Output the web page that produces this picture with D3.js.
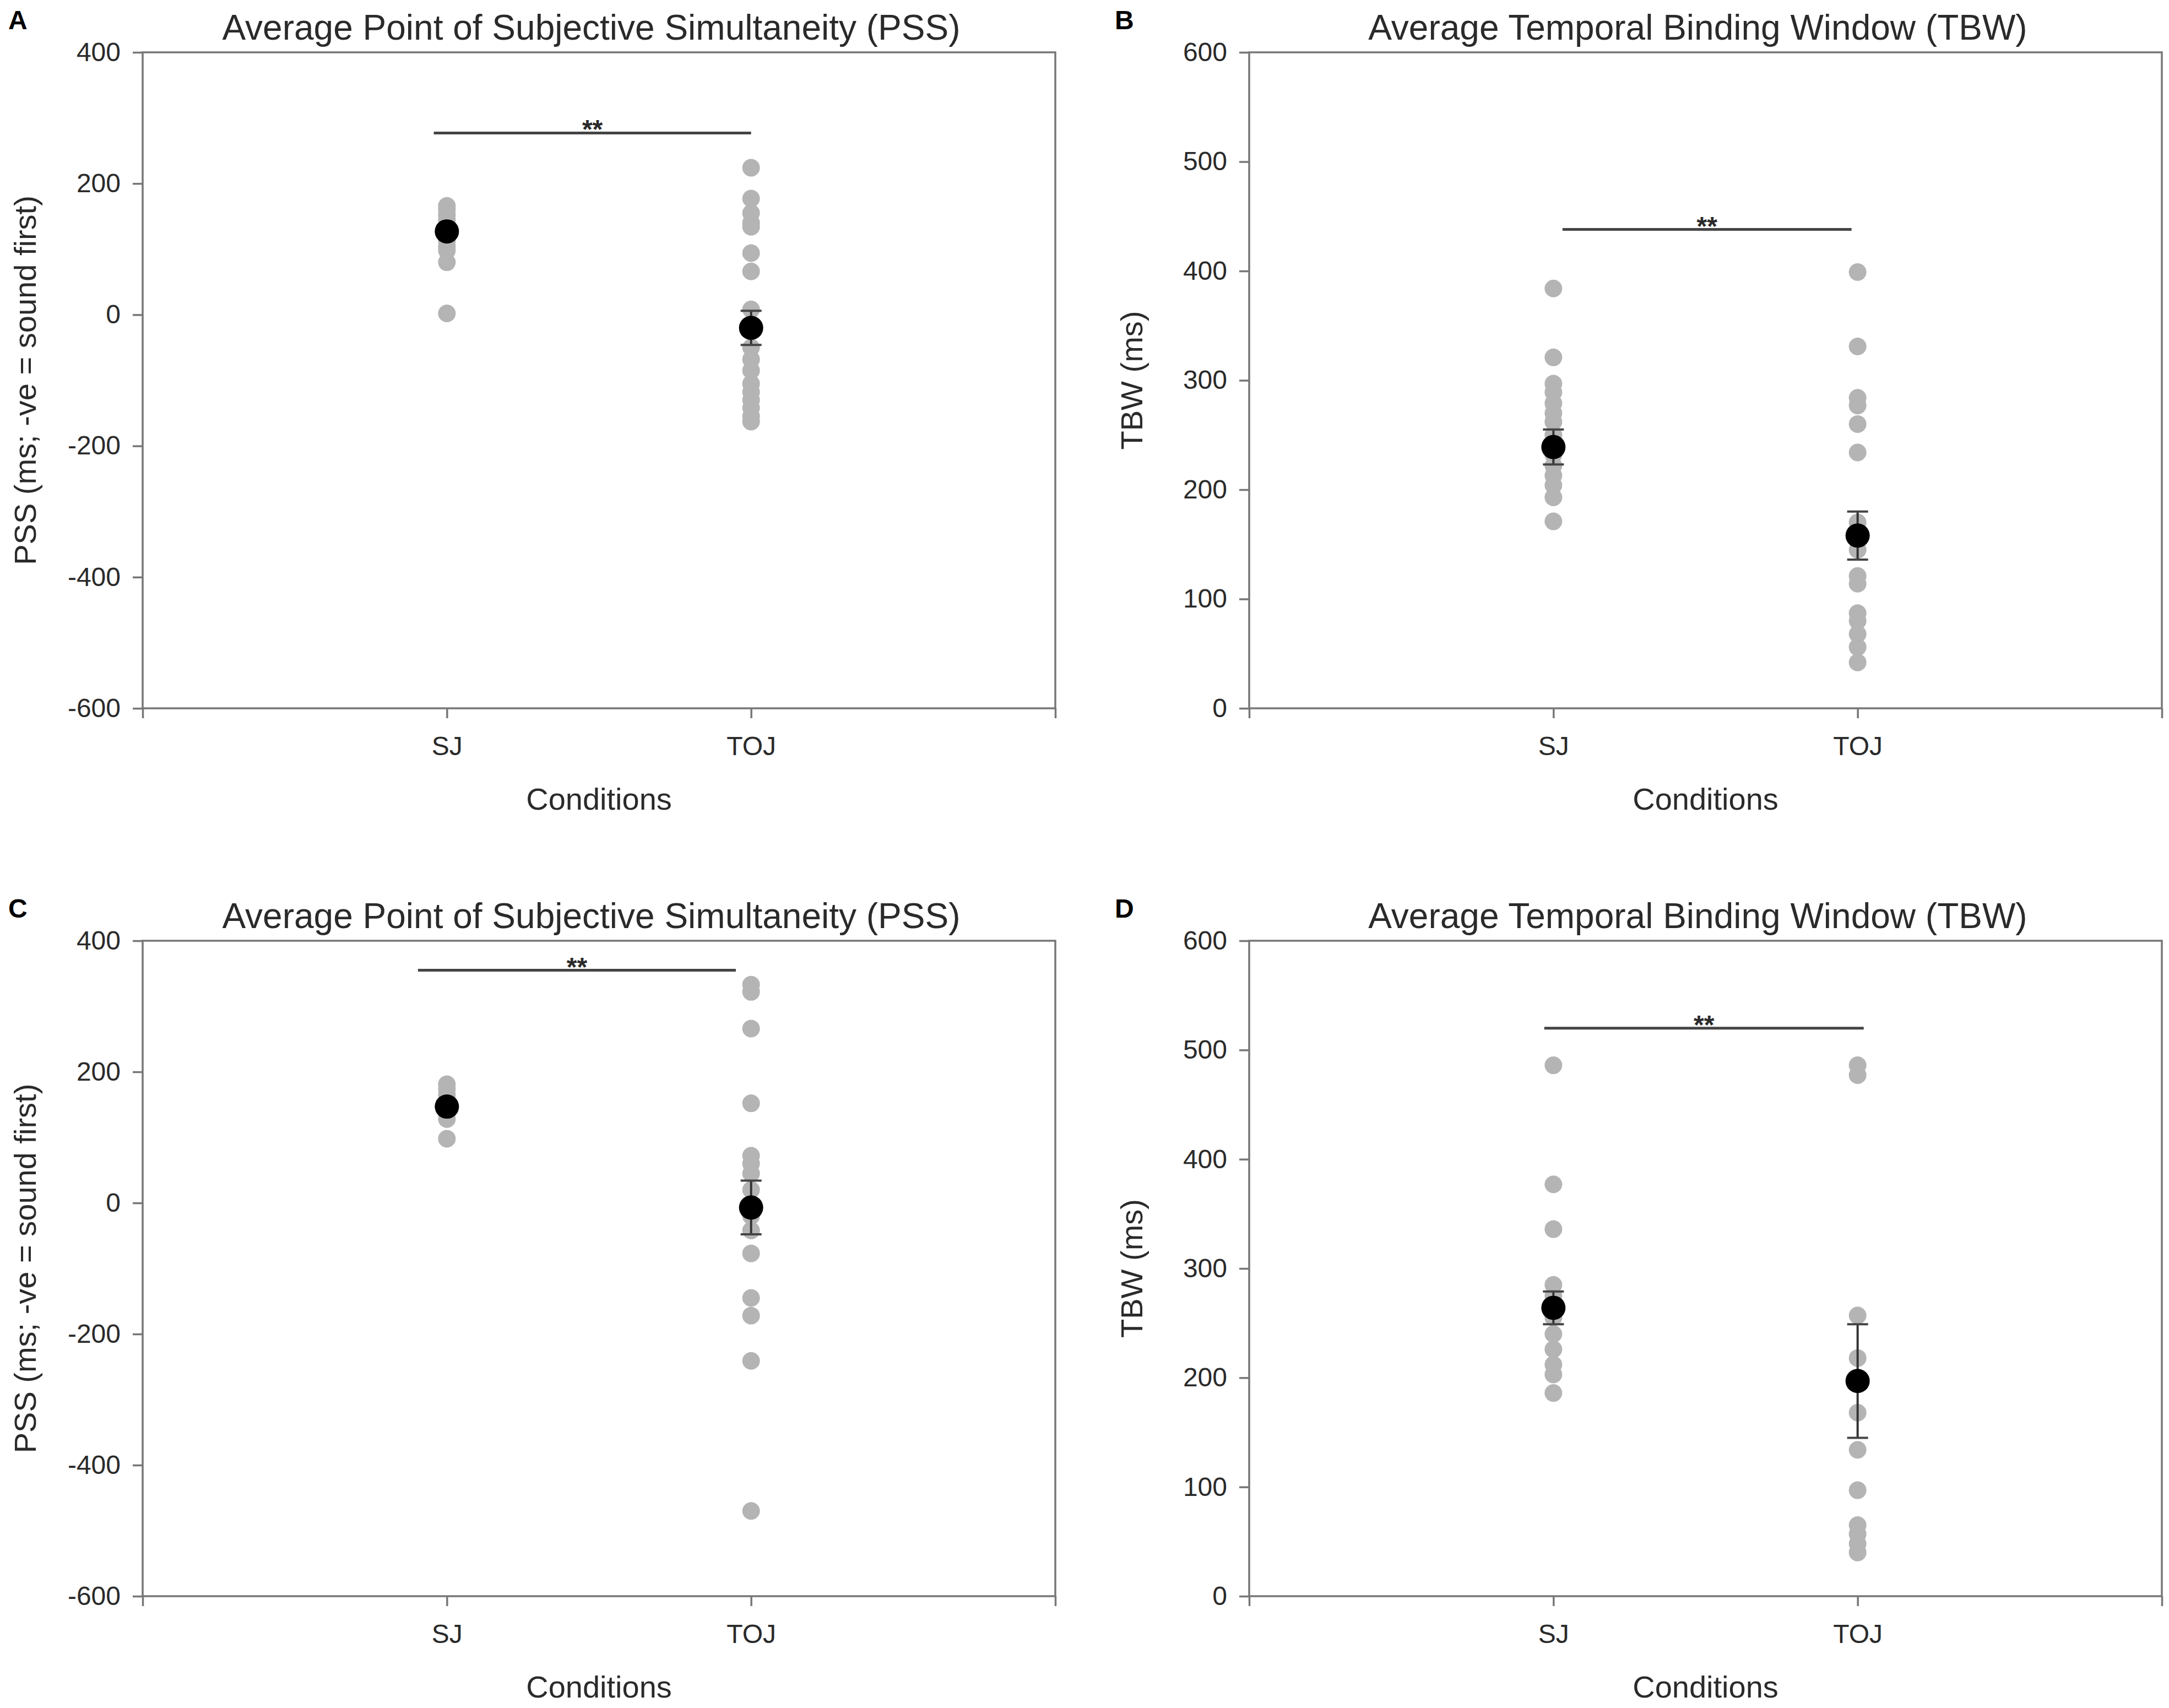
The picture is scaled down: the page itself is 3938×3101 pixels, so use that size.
<!DOCTYPE html>
<html>
<head>
<meta charset="utf-8">
<script src="https://cdn.jsdelivr.net/npm/d3@7/dist/d3.min.js"></script>
<style>
  body { margin: 0; background: #fff; }
  svg { display: block; font-family: "Liberation Sans", Arial, sans-serif; }
</style>
</head>
<body>
<script>
(function(d3, document) {
  // conditions on the x axis
  var conditions = ["SJ", "TOJ"];

  // tick values
  var pssTicks = [-600, -400, -200, 0, 200, 400];
  var tbwTicks = [0, 100, 200, 300, 400, 500, 600];

  // individual participants (grey dots)
  var pssA_SJ = [166, 160, 152, 145, 138, 130, 120, 112, 104, 98, 80, 2];
  var pssA_TOJ = [224, 177, 155, 140, 134, 94, 66, 8, -50, -68, -85, -105, -118, -130, -142, -155, -163];
  var tbwB_SJ = [384, 321, 297, 289, 279, 270, 262, 250, 232, 222, 213, 204, 193, 171];
  var tbwB_TOJ = [399, 331, 284, 277, 260, 234, 170, 145, 121, 114, 87, 80, 68, 56, 42];
  var pssC_SJ = [181, 174, 165, 155, 145, 137, 128, 98];
  var pssC_TOJ = [333, 322, 266, 152, 72, 60, 45, 20, -20, -42, -77, -145, -172, -241, -470];
  var tbwD_SJ = [486, 377, 336, 285, 275, 265, 255, 240, 226, 212, 203, 186];
  var tbwD_TOJ = [486, 477, 257, 218, 168, 134, 97, 65, 57, 48, 40];

  // group means and standard errors [SJ, TOJ]
  var meansA = [127, -20], semsA = [8, 26];
  var meansB = [239, 158], semsB = [16, 22];
  var meansC = [147, -7], semsC = [8, 41];
  var meansD = [264, 197], semsD = [15, 52];

  // significance brackets: value height
  var sigA = 277, sigB = 438, sigC = 355, sigD = 520;

  var width = 3938;
  var height = 3101;
  var axisColor = "#777";
  var textColor = "#2a2a2a";

  var svg = d3.select("body").append("svg").attr("width", width).attr("height", height);

  var pssTitle = "Average Point of Subjective Simultaneity (PSS)";
  var tbwTitle = "Average Temporal Binding Window (TBW)";

  var panels = [
    { letter: "A", title: pssTitle, yLabel: "PSS (ms; -ve = sound first)", ticks: pssTicks,
      x0: 259, x1: 1916, y0: 95, y1: 1286, groups: [pssA_SJ, pssA_TOJ], means: meansA, sems: semsA,
      sig: sigA, sigFrom: 0.957, sigTo: 2.0 },
    { letter: "B", title: tbwTitle, yLabel: "TBW (ms)", ticks: tbwTicks,
      x0: 2268, x1: 3925, y0: 95, y1: 1286, groups: [tbwB_SJ, tbwB_TOJ], means: meansB, sems: semsB,
      sig: sigB, sigFrom: 1.03, sigTo: 1.98 },
    { letter: "C", title: pssTitle, yLabel: "PSS (ms; -ve = sound first)", ticks: pssTicks,
      x0: 259, x1: 1916, y0: 1708, y1: 2898, groups: [pssC_SJ, pssC_TOJ], means: meansC, sems: semsC,
      sig: sigC, sigFrom: 0.905, sigTo: 1.95 },
    { letter: "D", title: tbwTitle, yLabel: "TBW (ms)", ticks: tbwTicks,
      x0: 2268, x1: 3925, y0: 1708, y1: 2898, groups: [tbwD_SJ, tbwD_TOJ], means: meansD, sems: semsD,
      sig: sigD, sigFrom: 0.97, sigTo: 2.02 }
  ];

  panels.forEach(function(p) {
    var g = svg.append("g");
    var x = d3.scaleLinear().domain([0, 3]).range([p.x0, p.x1]);
    var y = d3.scaleLinear().domain(d3.extent(p.ticks)).range([p.y1, p.y0]);
    var cx = (p.x0 + p.x1) / 2;
    var cy = (p.y0 + p.y1) / 2;

    // frame
    g.append("rect").attr("x", p.x0).attr("y", p.y0)
      .attr("width", p.x1 - p.x0).attr("height", p.y1 - p.y0)
      .attr("fill", "none").attr("stroke", axisColor).attr("stroke-width", 3.5);

    // axes (plain hyphen for negatives, like the original)
    var yAxis = g.append("g").attr("transform", "translate(" + p.x0 + ",0)")
      .call(d3.axisLeft(y).tickValues(p.ticks).tickSize(18).tickSizeOuter(0).tickPadding(22)
        .tickFormat(function(d) { return String(d); }));
    var xAxis = g.append("g").attr("transform", "translate(0," + p.y1 + ")")
      .call(d3.axisBottom(x).tickValues([0, 1, 2, 3]).tickSize(18).tickSizeOuter(0).tickPadding(33)
        .tickFormat(function(d) { return conditions[d - 1] || ""; }));
    [yAxis, xAxis].forEach(function(a) {
      a.select(".domain").remove();
      a.selectAll(".tick line").attr("stroke", axisColor).attr("stroke-width", 3.5);
      a.selectAll(".tick text").attr("fill", textColor).attr("font-size", 48)
        .attr("font-family", "Liberation Sans, Arial, sans-serif");
    });

    // titles and labels
    g.append("text").attr("x", cx - 14).attr("y", p.y0 - 23).attr("text-anchor", "middle")
      .attr("font-size", 64).attr("fill", textColor).text(p.title);
    g.append("text").attr("x", cx).attr("y", p.y1 + 184).attr("text-anchor", "middle")
      .attr("font-size", 56).attr("fill", textColor).text("Conditions");
    g.append("text").attr("transform", "translate(" + (p.x0 - 194) + "," + cy + ") rotate(-90)")
      .attr("text-anchor", "middle").attr("font-size", 56).attr("fill", textColor).text(p.yLabel);
    g.append("text").attr("x", p.x0 - 244).attr("y", p.y0 - 42)
      .attr("font-size", 48).attr("font-weight", "bold").attr("fill", "#000").text(p.letter);

    // significance bracket
    g.append("line").attr("x1", x(p.sigFrom)).attr("x2", x(p.sigTo))
      .attr("y1", y(p.sig)).attr("y2", y(p.sig))
      .attr("stroke", "#444").attr("stroke-width", 5);
    g.append("text").attr("x", x((p.sigFrom + p.sigTo) / 2)).attr("y", y(p.sig) + 10)
      .attr("text-anchor", "middle").attr("font-size", 48).attr("font-weight", "bold")
      .attr("fill", textColor).text("**");

    // individual dots
    p.groups.forEach(function(vals, i) {
      g.append("g").selectAll("circle").data(vals).enter().append("circle")
        .attr("cx", x(i + 1)).attr("cy", function(d) { return y(d); })
        .attr("r", 16).attr("fill", "#b4b4b4");
    });

    // error bars
    var eb = g.append("g").selectAll("g").data(p.means).enter().append("g");
    eb.append("line")
      .attr("x1", function(d, i) { return x(i + 1); }).attr("x2", function(d, i) { return x(i + 1); })
      .attr("y1", function(d, i) { return y(d + p.sems[i]); })
      .attr("y2", function(d, i) { return y(d - p.sems[i]); })
      .attr("stroke", "#333").attr("stroke-width", 4);
    [1, -1].forEach(function(s) {
      eb.append("line")
        .attr("x1", function(d, i) { return x(i + 1) - 19; }).attr("x2", function(d, i) { return x(i + 1) + 19; })
        .attr("y1", function(d, i) { return y(d + s * p.sems[i]); })
        .attr("y2", function(d, i) { return y(d + s * p.sems[i]); })
        .attr("stroke", "#444").attr("stroke-width", 4);
    });

    // means
    g.append("g").selectAll("circle").data(p.means).enter().append("circle")
      .attr("cx", function(d, i) { return x(i + 1); }).attr("cy", function(d) { return y(d); })
      .attr("r", 22).attr("fill", "#000");
  });
})(d3, document);
</script>
</body>
</html>
